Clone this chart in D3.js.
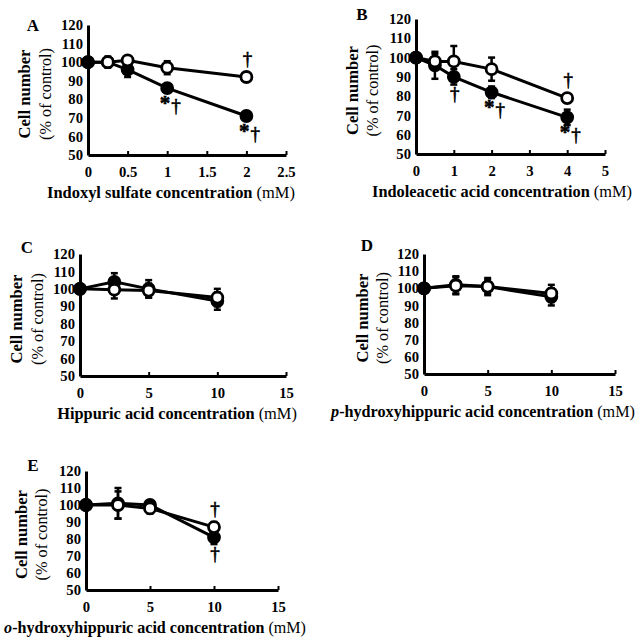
<!DOCTYPE html>
<html><head><meta charset="utf-8">
<script src="https://cdn.jsdelivr.net/npm/d3@7"></script>
<style>
body{margin:0;background:#fff;}
text,tspan{font-family:"Liberation Serif","Times New Roman",serif;fill:#000;}
</style></head>
<body><svg id="c" width="640" height="637"></svg>
<script>
// ---- Data ----
const yTicks = [50,60,70,80,90,100,110,120];

const xA = [0,0.25,0.5,1,2];
const filledA = [100,100,96,86,71];
const filledErrA = [0,2,4,2,2];
const openA = [100,100,101,97,92];
const openErrA = [0,3,2,3.5,2];
const xTicksA = [0,0.5,1,1.5,2,2.5];

const xB = [0,0.5,1,2,4];
const filledB = [100,96,90,82,69];
const filledErrB = [0,7,4,3,4];
const openB = [100,98,98,94,79];
const openErrB = [0,4,8,6,2];
const xTicksB = [0,1,2,3,4,5];

const xC = [0,2.5,5,10];
const filledC = [100,104,100,93];
const filledErrC = [0,5,5,5];
const openC = [100,99.5,99,95];
const openErrC = [0,5,4,5];
const xTicksC = [0,5,10,15];

const xD = [0,2.5,5,10];
const filledD = [100,102,101,95];
const filledErrD = [0,5,5,5];
const openD = [100,101.5,101,97];
const openErrD = [0,5,4,5];
const xTicksD = [0,5,10,15];

const xE = [0,2.5,5,10];
const filledE = [100,101,100,81];
const filledErrE = [0,9,2,4];
const openE = [100,100,98,87];
const openErrE = [0,8,3,3];
const xTicksE = [0,5,10,15];

// annotations: [series, x, text, position]
const annA = [["open",2,"†","above"],["filled",1,"*†","below"],["filled",2,"*†","below"]];
const annB = [["filled",1,"†","below"],["filled",2,"*†","below"],["open",4,"†","above"],["filled",4,"*†","below"]];
const annC = [];
const annD = [];
const annE = [["open",10,"†","above"],["filled",10,"†","below"]];

// ---- Layout ----
const panels = [
  {id:"A", xs:xA, f:filledA, fe:filledErrA, o:openA, oe:openErrA, ticks:xTicksA, xmax:2.5,
   px:[88,286], py:[155,25], letter:[33,31], yt:[25,46], title:["Indoxyl sulfate concentration"," (mM)",""], tx:171, tw:248, ann:annA},
  {id:"B", xs:xB, f:filledB, fe:filledErrB, o:openB, oe:openErrB, ticks:xTicksB, xmax:5,
   px:[416,605], py:[154,19], letter:[362,20], yt:[353,373], title:["Indoleacetic acid concentration"," (mM)",""], tx:502, tw:260, ann:annB},
  {id:"C", xs:xC, f:filledC, fe:filledErrC, o:openC, oe:openErrC, ticks:xTicksC, xmax:15,
   px:[80,286], py:[376,254], letter:[27,253], yt:[17,38], title:["Hippuric acid concentration"," (mM)",""], tx:177, tw:240, ann:annC},
  {id:"D", xs:xD, f:filledD, fe:filledErrD, o:openD, oe:openErrD, ticks:xTicksD, xmax:15,
   px:[424,615], py:[374,254], letter:[367,251], yt:[363,383], title:["-hydroxyhippuric acid concentration"," (mM)","p"], tx:483, tw:304, ann:annD},
  {id:"E", xs:xE, f:filledE, fe:filledErrE, o:openE, oe:openErrE, ticks:xTicksE, xmax:15,
   px:[86,278], py:[590,471], letter:[33,471], yt:[22,42], title:["-hydroxyhippuric acid concentration"," (mM)","o"], tx:155, tw:302, ann:annE}
];

const svg = d3.select("#c");

function measure(str, size, weight){
  const t = svg.append("text").attr("font-size",size).attr("font-weight",weight).text(str);
  const w = t.node().getComputedTextLength(); t.remove(); return w;
}
const yTitleSize = Math.min(20, 16*89/measure("Cell number",16,"bold"));
const yTitle2Size = Math.min(20, 16*92/measure("(% of control)",16,"normal"));
const tickSize = Math.min(17, 16*22/measure("120",16,"bold"));

panels.forEach(p => {
  const x = d3.scaleLinear().domain([0,p.xmax]).range(p.px);
  const y = d3.scaleLinear().domain([50,120]).range(p.py);
  const g = svg.append("g");

  const xa = g.append("g").attr("transform",`translate(0,${p.py[0]})`)
    .call(d3.axisBottom(x).tickValues(p.ticks).tickSizeInner(-4).tickSizeOuter(0).tickPadding(8).tickFormat(d3.format("")));
  xa.select(".domain").attr("stroke","#000").attr("stroke-width",3);
  xa.selectAll(".tick line").attr("stroke-width",2);
  xa.selectAll(".tick text").attr("font-size",tickSize).attr("font-weight","bold").attr("dy","0.95em");

  const ya = g.append("g").attr("transform",`translate(${p.px[0]},0)`)
    .call(d3.axisLeft(y).tickValues(yTicks).tickSizeInner(0).tickSizeOuter(0).tickPadding(5));
  ya.select(".domain").attr("stroke","#000").attr("stroke-width",3);
  ya.selectAll(".tick text").attr("font-size",tickSize).attr("font-weight","bold");

  g.append("text").attr("x",p.letter[0]).attr("y",p.letter[1]).attr("text-anchor","middle")
    .attr("font-size",17).attr("font-weight","bold").text(p.id);

  const ymid = (p.py[0]+p.py[1])/2 + 4;
  g.append("text").attr("transform",`translate(${p.yt[0]+5},${ymid}) rotate(-90)`).attr("text-anchor","middle")
    .attr("font-size",yTitleSize).attr("font-weight","bold").text("Cell number");
  g.append("text").attr("transform",`translate(${p.yt[1]+5},${ymid}) rotate(-90)`).attr("text-anchor","middle")
    .attr("font-size",yTitle2Size).text("(% of control)");

  // x title, fitted to the reference width
  const t = g.append("text").attr("x",p.tx).attr("y",p.py[0]+43).attr("text-anchor","middle").attr("font-size",16);
  if (p.title[2]) t.append("tspan").attr("font-weight","bold").attr("font-style","italic").text(p.title[2]);
  t.append("tspan").attr("font-weight","bold").text(p.title[0]);
  t.append("tspan").text(p.title[1]);
  const w = t.node().getComputedTextLength();
  t.attr("font-size", Math.min(17.5, 16*p.tw/w));

  const series = [
    {key:"filled", v:p.f, e:p.fe},
    {key:"open", v:p.o, e:p.oe}
  ];
  const line = d3.line().x(d=>x(d.x)).y(d=>y(d.v));

  series.forEach(s => {
    const pts = p.xs.map((xx,i)=>({x:xx, v:s.v[i], e:s.e[i]}));
    const eb = g.append("g");
    pts.filter(d=>d.e>0).forEach(d=>{
      eb.append("line").attr("x1",x(d.x)).attr("x2",x(d.x)).attr("y1",y(d.v-d.e)).attr("y2",y(d.v+d.e))
        .attr("stroke","#000").attr("stroke-width",2.5);
      [d.v-d.e,d.v+d.e].forEach(yy=>{
        eb.append("line").attr("x1",x(d.x)-3.5).attr("x2",x(d.x)+3.5).attr("y1",y(yy)).attr("y2",y(yy))
          .attr("stroke","#000").attr("stroke-width",2.5);
      });
    });
    g.append("path").datum(pts).attr("d",line).attr("fill","none").attr("stroke","#000").attr("stroke-width",3);
    g.selectAll(null).data(pts).enter().append("circle")
      .attr("cx",d=>x(d.x)).attr("cy",d=>y(d.v)).attr("r",5.5)
      .attr("fill",d=> (s.key==="filled"||d.x===0) ? "#000" : "#fff")
      .attr("stroke","#000").attr("stroke-width",2.8);
  });

  p.ann.forEach(a=>{
    const vals = a[0]==="filled" ? p.f : p.o;
    const i = p.xs.indexOf(a[1]);
    const cx = x(a[1]), cy = y(vals[i]);
    const yy = a[3]==="above" ? cy-12 : cy+23;
    const tt = g.append("text").attr("x",cx+(a[2].length>1?3:1)).attr("y",yy).attr("text-anchor","middle")
      .attr("font-size",19).attr("fill","#000").attr("stroke","#000").attr("stroke-width",0.6);
    if (a[2].length>1){
      tt.append("tspan").attr("font-weight","bold").attr("font-size",21).attr("dy",-1).text("*");
      tt.append("tspan").attr("dy",2).attr("dx",1).text("†");
    } else {
      tt.text(a[2]);
    }
  });
});
</script></body></html>
